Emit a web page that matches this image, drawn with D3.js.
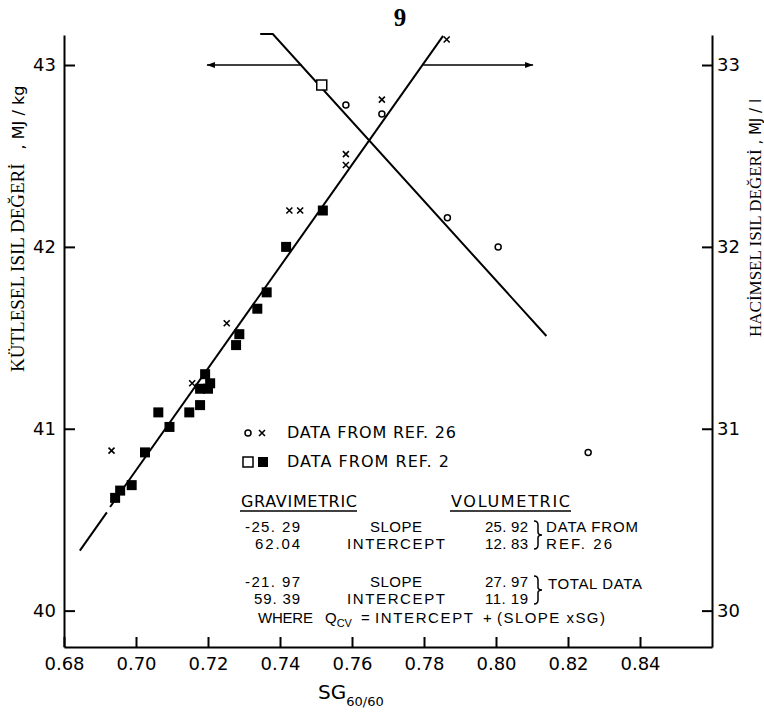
<!DOCTYPE html>
<html><head><meta charset="utf-8">
<script src="https://cdn.jsdelivr.net/npm/d3@7"></script>
<style>
html,body{margin:0;padding:0;background:#fff;}
svg{display:block;}
</style></head>
<body>
<svg id="chart" width="764" height="715"></svg>
<script>
// ---- data ----
const xTicks = [0.68, 0.70, 0.72, 0.74, 0.76, 0.78, 0.80, 0.82, 0.84];
const leftTicks = [40, 41, 42, 43];
const rightTicks = [30, 31, 32, 33];

// gravimetric (left axis, MJ/kg) — open markers
const gravCircleSG = [0.7583, 0.7683, 0.7865, 0.8006, 0.8256];
const gravCircleQ  = [42.78, 42.73, 42.16, 42.00, 40.87];
const gravSquareSG = [0.7516];
const gravSquareQ  = [42.89];

// volumetric (right axis, MJ/l) — x marks (ref 26) and filled squares (ref 2)
const volCrossSG = [0.6932, 0.7156, 0.7252, 0.7426, 0.7456, 0.7583, 0.7583, 0.7683, 0.7863];
const volCrossQ  = [30.88, 31.25, 31.58, 32.20, 32.20, 32.45, 32.51, 32.81, 33.14];
const volSquareSG = [0.6942, 0.6956, 0.6988, 0.7025, 0.7062, 0.7093, 0.7148, 0.7178, 0.7178,
                     0.7192, 0.7200, 0.7206, 0.7278, 0.7287, 0.7337, 0.7363, 0.7417, 0.7519];
const volSquareQ  = [30.62, 30.66, 30.69, 30.87, 31.09, 31.01, 31.09, 31.13, 31.22,
                     31.30, 31.22, 31.25, 31.46, 31.52, 31.66, 31.75, 32.00, 32.20];

// fitted lines (total data)
const gravLineSG = [0.7345, 0.7380, 0.8140];
const gravLineQ  = [43.17, 43.17, 41.51];
const volLineSG1 = [0.6844, 0.6919];
const volLineQ1  = [30.33, 30.54];
const volLineSG2 = [0.6928, 0.7853];
const volLineQ2  = [30.57, 33.16];

// arrows showing which axis each line belongs to
const gravArrowSG = [0.7460, 0.7197];
const gravArrowQ  = [43.0, 43.0];
const volArrowSG  = [0.7798, 0.8103];
const volArrowQ   = [33.0, 33.0];

// table text
const tableHeaders = ["GRAVIMETRIC", "VOLUMETRIC"];
const gravValues = ["-25. 29", "62.04", "-21. 97", "59. 39"];
const rowLabels  = ["SLOPE", "INTERCEPT", "SLOPE", "INTERCEPT"];
const volValues  = ["25. 92", "12. 83", "27. 97", "11. 19"];
const legendLabels = ["DATA  FROM  REF. 26", "DATA  FROM  REF. 2"];

// ---- drawing ----
const svg = d3.select("#chart");
const x  = d3.scaleLinear().domain([0.68, 0.86]).range([64, 712]);
const yL = d3.scaleLinear().domain([39.8, 43.165]).range([647, 35]);
const yR = d3.scaleLinear().domain([29.8, 33.165]).range([647, 35]);

const sans = "'DejaVu Sans', sans-serif";
const sans2 = "'Liberation Sans', Arial, sans-serif";
const serif = "'Liberation Serif', 'DejaVu Serif', serif";

function styleAxis(g) {
  g.selectAll("path.domain").attr("stroke", "#000").attr("stroke-width", 2);
  g.selectAll(".tick line").attr("stroke", "#000").attr("stroke-width", 2);
  g.selectAll(".tick text").attr("fill", "#000").style("font-family", sans).style("font-size", "18px");
}

svg.append("g").attr("transform", "translate(0,647)")
  .call(d3.axisBottom(x).tickValues(xTicks).tickFormat(d3.format(".2f"))
        .tickSizeInner(-10).tickSizeOuter(0).tickPadding(10))
  .call(styleAxis);

svg.append("g").attr("transform", "translate(64,0)")
  .call(d3.axisLeft(yL).tickValues(leftTicks).tickFormat(d3.format("d"))
        .tickSizeInner(-11).tickSizeOuter(0).tickPadding(8))
  .call(styleAxis);

svg.append("g").attr("transform", "translate(712,0)")
  .call(d3.axisRight(yR).tickValues(rightTicks).tickFormat(d3.format("d"))
        .tickSizeInner(-10).tickSizeOuter(0).tickPadding(5))
  .call(styleAxis);

// titles
svg.append("text").attr("x", 400).attr("y", 26).attr("text-anchor", "middle")
  .style("font-family", serif).style("font-size", "25px").style("font-weight", "bold").text("9");

const xt = svg.append("text").attr("x", 318).attr("y", 699)
  .style("font-family", sans).style("font-size", "20px");
xt.append("tspan").text("SG");
xt.append("tspan").attr("dy", 7).style("font-size", "13px").text("60/60");

const lt = svg.append("text").attr("transform", "translate(24,372) rotate(-90)")
  .attr("text-anchor", "start");
lt.append("tspan").style("font-family", serif).style("font-size", "19px").text("KÜTLESEL ISIL DEĞERİ");
lt.append("tspan").attr("dx", 14).style("font-family", sans).style("font-size", "16px").text(", MJ / kg");

const rt = svg.append("text").attr("transform", "translate(761,337) rotate(-90)")
  .attr("text-anchor", "start");
rt.append("tspan").style("font-family", serif).style("font-size", "17px").text("HACİMSEL ISIL DEĞERİ");
rt.append("tspan").style("font-family", sans).style("font-size", "15px").text("  , MJ / l");

// lines
const lineL = d3.line().x(d => x(d[0])).y(d => yL(d[1]));
const lineR = d3.line().x(d => x(d[0])).y(d => yR(d[1]));
const plot = svg.append("g").attr("fill", "none").attr("stroke", "#000").attr("stroke-width", 2);
plot.append("path").attr("d", lineL(d3.zip(gravLineSG, gravLineQ)));
plot.append("path").attr("d", lineR(d3.zip(volLineSG1, volLineQ1)));
plot.append("path").attr("d", lineR(d3.zip(volLineSG2, volLineQ2)));
plot.append("path").attr("stroke-width", 1.5).attr("d", lineL(d3.zip(gravArrowSG, gravArrowQ)));
plot.append("path").attr("stroke-width", 1.5).attr("d", lineR(d3.zip(volArrowSG, volArrowQ)));

// arrow heads
function arrowHead(px, py, dir) {
  svg.append("path")
    .attr("d", `M${px},${py} L${px - dir * 8},${py - 3} L${px - dir * 8},${py + 3} Z`)
    .attr("fill", "#000");
}
arrowHead(x(gravArrowSG[1]), yL(gravArrowQ[1]), -1);
arrowHead(x(volArrowSG[1]), yR(volArrowQ[1]), 1);

// markers
const S = 10;
svg.append("g").selectAll("rect").data(d3.zip(volSquareSG, volSquareQ)).join("rect")
  .attr("x", d => x(d[0]) - S / 2).attr("y", d => yR(d[1]) - S / 2)
  .attr("width", S).attr("height", S).attr("fill", "#000");

svg.append("g").selectAll("rect").data(d3.zip(gravSquareSG, gravSquareQ)).join("rect")
  .attr("x", d => x(d[0]) - S / 2).attr("y", d => yL(d[1]) - S / 2)
  .attr("width", S).attr("height", S).attr("fill", "#fff").attr("stroke", "#000").attr("stroke-width", 1.5);

svg.append("g").selectAll("circle").data(d3.zip(gravCircleSG, gravCircleQ)).join("circle")
  .attr("cx", d => x(d[0])).attr("cy", d => yL(d[1])).attr("r", 3)
  .attr("fill", "none").attr("stroke", "#000").attr("stroke-width", 1.5);

function cross(g, cx, cy, r) {
  g.append("path").attr("d", `M${cx - r},${cy - r}L${cx + r},${cy + r}M${cx - r},${cy + r}L${cx + r},${cy - r}`)
    .attr("stroke", "#000").attr("stroke-width", 1.6).attr("fill", "none");
}
const cg = svg.append("g");
d3.zip(volCrossSG, volCrossQ).forEach(d => cross(cg, x(d[0]), yR(d[1]), 3));

// legend
const lg = svg.append("g").style("font-family", sans).style("font-size", "16px").attr("fill", "#000");
lg.append("circle").attr("cx", 248).attr("cy", 433).attr("r", 3).attr("fill", "none").attr("stroke", "#000").attr("stroke-width", 1.5);
cross(lg, 262, 433, 3);
lg.append("text").attr("x", 287).attr("y", 438).attr("textLength", 169).attr("lengthAdjust", "spacing").text(legendLabels[0]);
lg.append("rect").attr("x", 243).attr("y", 457).attr("width", 10).attr("height", 10).attr("fill", "#fff").attr("stroke", "#000").attr("stroke-width", 1.5);
lg.append("rect").attr("x", 258).attr("y", 457).attr("width", 10).attr("height", 10).attr("fill", "#000");
lg.append("text").attr("x", 287).attr("y", 467).attr("textLength", 162).attr("lengthAdjust", "spacing").text(legendLabels[1]);

// table
const tb = svg.append("g").style("font-family", sans2).style("font-size", "15px").attr("fill", "#000");
tb.append("text").attr("x", 241).attr("y", 507).style("font-family", sans).style("font-size", "16px").attr("textLength", 116).attr("lengthAdjust", "spacing").text(tableHeaders[0]);
tb.append("line").attr("x1", 240).attr("x2", 357).attr("y1", 511).attr("y2", 511).attr("stroke", "#000").attr("stroke-width", 1.5);
tb.append("text").attr("x", 451).attr("y", 507).style("font-family", sans).style("font-size", "16px").attr("textLength", 119).attr("lengthAdjust", "spacing").text(tableHeaders[1]);
tb.append("line").attr("x1", 450).attr("x2", 571).attr("y1", 511).attr("y2", 511).attr("stroke", "#000").attr("stroke-width", 1.5);

const rowY = [532, 549, 587, 604];
const gravW = [55, 45, 55, 46];
rowY.forEach((yy, i) => {
  tb.append("text").attr("x", 300).attr("y", yy).attr("text-anchor", "end")
    .attr("textLength", gravW[i]).attr("lengthAdjust", "spacing").text(gravValues[i]);
  tb.append("text").attr("x", 396).attr("y", yy).attr("text-anchor", "middle")
    .attr("textLength", i % 2 ? 98 : 52).attr("lengthAdjust", "spacing").text(rowLabels[i]);
  tb.append("text").attr("x", 528).attr("y", yy).attr("text-anchor", "end")
    .attr("textLength", 43).attr("lengthAdjust", "spacing").text(volValues[i]);
});

function brace(bx, y0, y1) {
  const ym = (y0 + y1) / 2;
  tb.append("path")
    .attr("d", `M${bx},${y0} Q${bx + 4},${y0} ${bx + 4},${y0 + 4} L${bx + 4},${ym - 3} Q${bx + 4},${ym} ${bx + 8},${ym} Q${bx + 4},${ym} ${bx + 4},${ym + 3} L${bx + 4},${y1 - 4} Q${bx + 4},${y1} ${bx},${y1}`)
    .attr("fill", "none").attr("stroke", "#000").attr("stroke-width", 1.5);
}
brace(534, 521, 549);
brace(534, 576, 604);
tb.append("text").attr("x", 546).attr("y", 532).attr("textLength", 92).attr("lengthAdjust", "spacing").text("DATA FROM");
tb.append("text").attr("x", 546).attr("y", 549).attr("textLength", 66).attr("lengthAdjust", "spacing").text("REF. 26");
tb.append("text").attr("x", 548).attr("y", 589).attr("textLength", 94).attr("lengthAdjust", "spacing").text("TOTAL DATA");

const wt = tb.append("g");
wt.append("text").attr("x", 258).attr("y", 623).attr("textLength", 55).attr("lengthAdjust", "spacing").text("WHERE");
const q = wt.append("text").attr("x", 325).attr("y", 623);
q.append("tspan").text("Q");
q.append("tspan").attr("dy", 4).style("font-size", "11px").text("CV");
wt.append("text").attr("x", 361).attr("y", 623).text("=");
wt.append("text").attr("x", 375).attr("y", 623).attr("textLength", 98).attr("lengthAdjust", "spacing").text("INTERCEPT");
wt.append("text").attr("x", 483).attr("y", 623).text("+");
wt.append("text").attr("x", 497).attr("y", 623).attr("textLength", 108).attr("lengthAdjust", "spacing").text("(SLOPE xSG)");
</script>
</body></html>
